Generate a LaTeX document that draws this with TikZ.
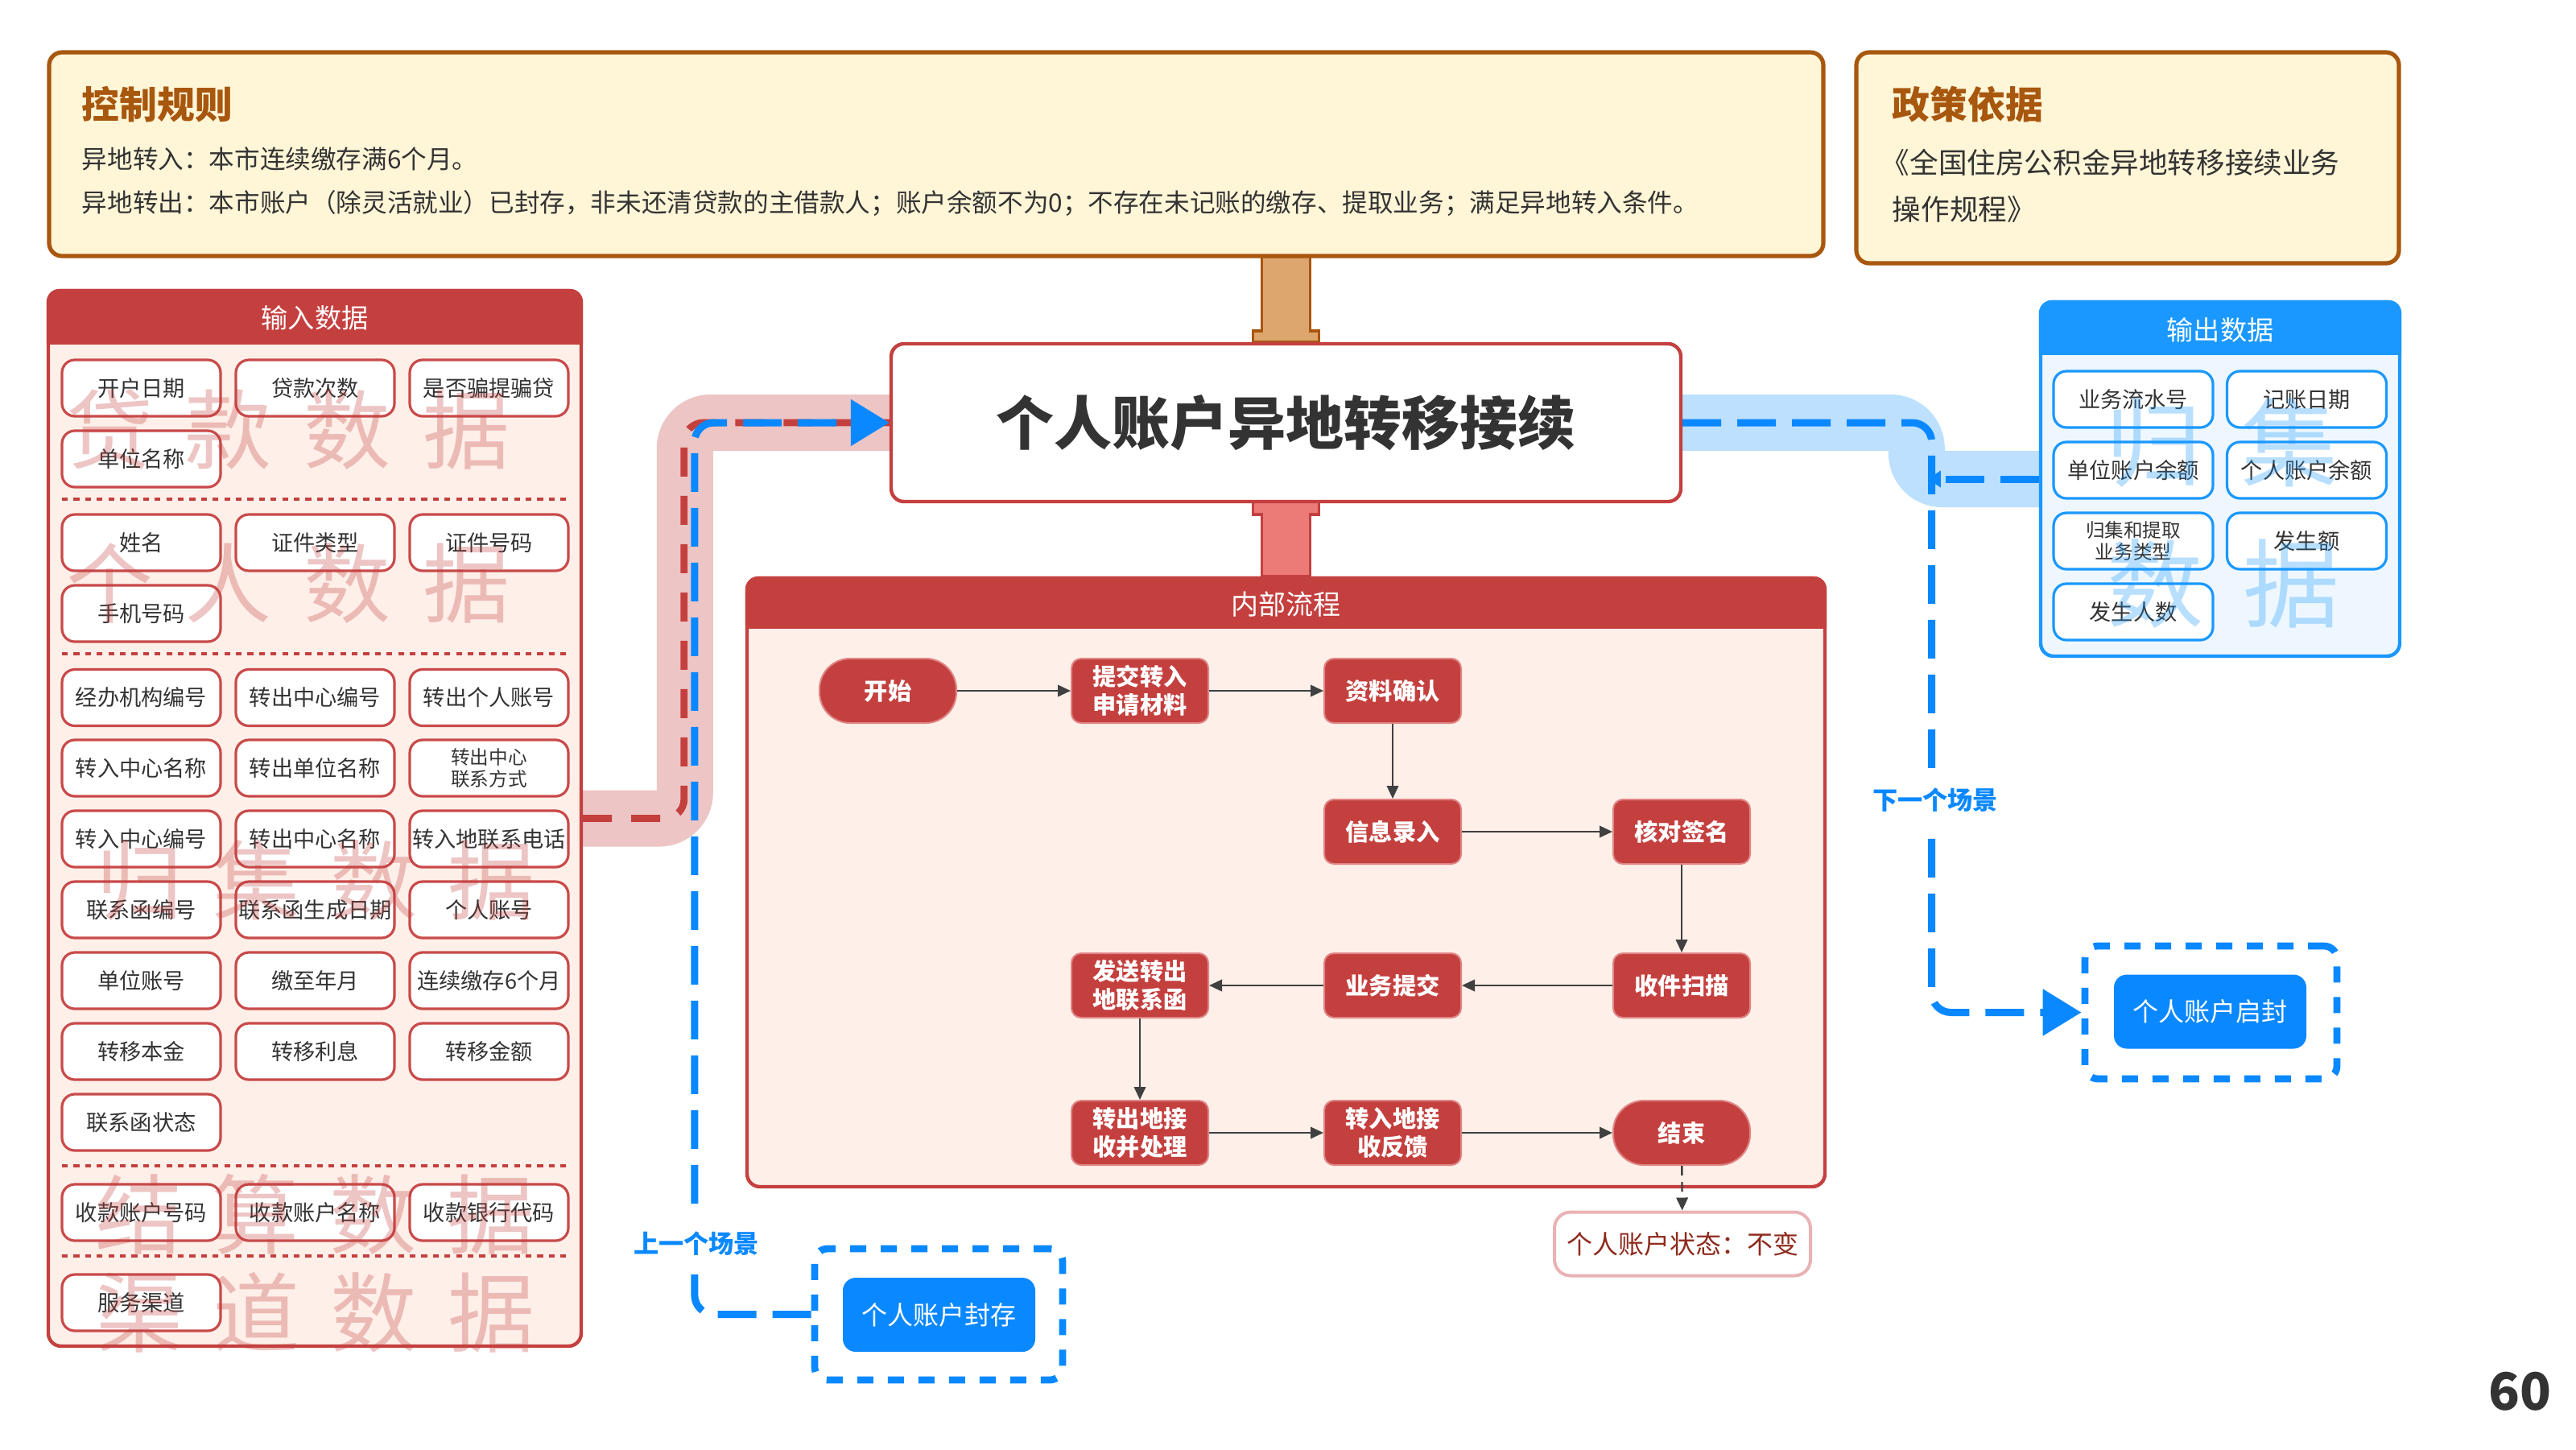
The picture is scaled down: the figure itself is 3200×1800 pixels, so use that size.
\documentclass[tikz,border=0pt]{standalone}
\usepackage{fontspec}
\setmainfont{Noto Sans CJK SC}
\usetikzlibrary{arrows.meta,calc}
\definecolor{inred}{HTML}{C4403F}
\definecolor{boxred}{HTML}{C94A4A}
\definecolor{pfill}{HTML}{FEEFE9}
\definecolor{rfill}{HTML}{FFF5D7}
\definecolor{rbrown}{HTML}{A8570E}
\definecolor{tanpipe}{HTML}{DEA66F}
\definecolor{pinkpipe}{HTML}{EC7A77}
\definecolor{pband}{HTML}{EDC5C5}
\definecolor{bband}{HTML}{BDE0FF}
\definecolor{bdash}{HTML}{0A88FF}
\definecolor{bhead}{HTML}{1A98FF}
\definecolor{bfill}{HTML}{EEF7FF}
\definecolor{txt}{HTML}{333333}
\definecolor{statred}{HTML}{8E2A1C}
\definecolor{flowedge}{HTML}{E08484}
\definecolor{stedge}{HTML}{E9B3B3}
\newcommand\fsz[2]{\fontsize{#1}{#2}\selectfont}
\pgfdeclarelayer{back}
\pgfdeclarelayer{bg}
\pgfsetlayers{back,bg,main}
\begin{document}
\begin{tikzpicture}[x=0.25pt,y=-0.25pt,
  ibox/.style={draw=boxred, line width=0.8pt, fill=white, rounded corners=4pt, minimum width=49.25pt, minimum height=17.5pt, inner sep=0pt, font=\fsz{6.8pt}{8pt}, text=txt, align=center},
  ismall/.style={ibox, font=\fsz{5.9pt}{6.8pt}},
  obox/.style={ibox, draw=bhead, minimum width=49.5pt},
  osmall/.style={obox, font=\fsz{5.9pt}{6.8pt}},
  panel/.style={draw=inred, line width=1.1pt, fill=pfill, rounded corners=4pt, inner sep=0pt},
  headtxt/.style={text=white, font=\fsz{8.3pt}{9pt}, inner sep=0pt},
  rulebox/.style={draw=rbrown, line width=1.3pt, fill=rfill, rounded corners=4pt, inner sep=0pt},
  ttl/.style={text=rbrown, font=\bfseries\fsz{11.7pt}{12pt}, inner sep=0pt},
  rtxt/.style={text=txt, font=\fsz{7.9pt}{9pt}, inner sep=0pt},
  ptxt/.style={text=txt, font=\fsz{8.9pt}{10pt}, inner sep=0pt},
  flow/.style={fill=inred, draw=flowedge, line width=0.5pt, rounded corners=3pt, minimum width=42.5pt, minimum height=20pt, inner sep=0pt, text=white, font=\bfseries\fsz{7.3pt}{8.75pt}, align=center},
  pill/.style={flow, rounded corners=9.5pt},
  farrow/.style={draw=black!75, line width=0.6pt, -{Triangle[length=4pt,width=3.6pt]}},
  status/.style={draw=stedge, line width=1pt, fill=white, rounded corners=5pt, minimum width=79.5pt, minimum height=19.75pt, inner sep=0pt, text=statred, font=\fsz{8pt}{9pt}},
  dbox/.style={draw=bdash, line width=2.2pt, dash pattern=on 5pt off 4.5pt, rounded corners=4pt, inner sep=0pt},
  bbtn/.style={fill=bdash, rounded corners=4pt, text=white, font=\fsz{8pt}{9pt}, minimum width=59.75pt, minimum height=23pt, inner sep=0pt},
  bluedash/.style={draw=bdash, line width=2.25pt, dash pattern=on 12pt off 5pt, rounded corners=6pt},
  reddash/.style={draw=inred, line width=2.2pt, dash pattern=on 9pt off 6pt, rounded corners=6pt},
  seplin/.style={draw=inred, line width=0.9pt, dash pattern=on 1.8pt off 1.8pt},
  scene/.style={fill=white, text=bdash, font=\bfseries\fsz{7.8pt}{8pt}, inner xsep=1pt, inner ysep=5pt},
  wm/.style={text=inred, text opacity=0.3, font=\fsz{27pt}{27pt}, inner sep=0pt},
  wmb/.style={text=bhead, text opacity=0.3, font=\fsz{30pt}{30pt}, inner sep=0pt}
]
\begin{pgfonlayer}{back}
\fill[white] (0,0) rectangle (3200,1800);
\end{pgfonlayer}
\useasboundingbox (0,0) rectangle (3200,1800);

% ---------- rules and policy ----------
\node[rulebox, minimum width=551pt, minimum height=63.25pt] (rules) at (1163,191.5) {};
\node[ttl, anchor=west] (rulesttl) at (101,130) {控制规则};
\node[rtxt, anchor=west] (rule1) at (101,197) {异地转入：本市连续缴存满6个月。};
\node[rtxt, anchor=west] (rule2) at (101,253) {异地转出：本市账户（除灵活就业）已封存，非未还清贷款的主借款人；账户余额不为0；不存在未记账的缴存、提取业务；满足异地转入条件。};

\node[rulebox, minimum width=168.5pt, minimum height=65.5pt] (policy) at (2643,196) {};
\node[ttl, anchor=west] (polttl) at (2350,130) {政策依据};
\node[ptxt, anchor=west] (pol1) at (2336,202) {《全国住房公积金异地转移接续业务};
\node[ptxt, anchor=west] (pol2) at (2350,260) {操作规程》};

% ---------- main title ----------
\node[draw=inred, line width=1.1pt, fill=white, rounded corners=4pt, minimum width=245.25pt, minimum height=49pt, inner sep=0pt, font=\bfseries\fsz{18pt}{18pt}, text=txt] (title) at (1597.5,525) {个人账户异地转移接续};

% ---------- input panel ----------
\node[panel, minimum width=165.5pt, minimum height=327.75pt] (inp) at (391,1016.5) {};
\fill[inred] ($(inp.north west)+(0,69)$) [rounded corners=4pt] -- (inp.north west) -- (inp.north east) [sharp corners] -- ($(inp.north east)+(0,69)$) -- cycle;
\node[headtxt] (inhead) at (391,395) {输入数据};

\node[ibox] (i1) at (175.5,482) {开户日期};
\node[ibox] (i2) at (391.5,482) {贷款次数};
\node[ibox] (i3) at (607.5,482) {是否骗提骗贷};
\node[ibox] (i4) at (175.5,570) {单位名称};
\draw[seplin] (77,620) -- (706,620);
\node[ibox] (i5) at (175.5,674) {姓名};
\node[ibox] (i6) at (391.5,674) {证件类型};
\node[ibox] (i7) at (607.5,674) {证件号码};
\node[ibox] (i8) at (175.5,762) {手机号码};
\draw[seplin] (77,812) -- (706,812);
\node[ibox] (i9) at (175.5,866.5) {经办机构编号};
\node[ibox] (i10) at (391.5,866.5) {转出中心编号};
\node[ibox] (i11) at (607.5,866.5) {转出个人账号};
\node[ibox] (i12) at (175.5,954) {转入中心名称};
\node[ibox] (i13) at (391.5,954) {转出单位名称};
\node[ismall] (i14) at (607.5,954) {转出中心\\联系方式};
\node[ibox] (i15) at (175.5,1042) {转入中心编号};
\node[ibox] (i16) at (391.5,1042) {转出中心名称};
\node[ibox] (i17) at (607.5,1042) {转入地联系电话};
\node[ibox] (i18) at (175.5,1130) {联系函编号};
\node[ibox] (i19) at (391.5,1130) {联系函生成日期};
\node[ibox] (i20) at (607.5,1130) {个人账号};
\node[ibox] (i21) at (175.5,1218) {单位账号};
\node[ibox] (i22) at (391.5,1218) {缴至年月};
\node[ibox] (i23) at (607.5,1218) {连续缴存6个月};
\node[ibox] (i24) at (175.5,1306) {转移本金};
\node[ibox] (i25) at (391.5,1306) {转移利息};
\node[ibox] (i26) at (607.5,1306) {转移金额};
\node[ibox] (i27) at (175.5,1394) {联系函状态};
\draw[seplin] (77,1448) -- (706,1448);
\node[ibox] (i28) at (175.5,1506) {收款账户号码};
\node[ibox] (i29) at (391.5,1506) {收款账户名称};
\node[ibox] (i30) at (607.5,1506) {收款银行代码};
\draw[seplin] (77,1560) -- (706,1560);
\node[ibox] (i31) at (175.5,1618) {服务渠道};

% ---------- internal flow panel ----------
\node[panel, minimum width=334.75pt, minimum height=189pt] (flowp) at (1597.5,1096) {};
\fill[inred] ($(flowp.north west)+(0,65)$) [rounded corners=4pt] -- (flowp.north west) -- (flowp.north east) [sharp corners] -- ($(flowp.north east)+(0,65)$) -- cycle;
\node[headtxt, font=\fsz{8.5pt}{9pt}] (flowhead) at (1597.5,751) {内部流程};

\node[pill] (fstart) at (1103,858) {开始};
\node[flow] (fsubmit) at (1416,858) {提交转入\\申请材料};
\node[flow] (fconfirm) at (1730,858) {资料确认};
\node[flow] (fentry) at (1730,1033) {信息录入};
\node[flow] (fverify) at (2089,1033) {核对签名};
\node[flow] (fscan) at (2089,1224) {收件扫描};
\node[flow] (fbusi) at (1730,1224) {业务提交};
\node[flow] (fsend) at (1416,1224) {发送转出\\地联系函};
\node[flow] (fout) at (1416,1407) {转出地接\\收并处理};
\node[flow] (fin) at (1730,1407) {转入地接\\收反馈};
\node[pill] (fend) at (2089,1407) {结束};
\node[status] (fstat) at (2090,1545) {个人账户状态：不变};

\draw[farrow] (fstart) -- (fsubmit);
\draw[farrow] (fsubmit) -- (fconfirm);
\draw[farrow] (fconfirm) -- (fentry);
\draw[farrow] (fentry) -- (fverify);
\draw[farrow] (fverify) -- (fscan);
\draw[farrow] (fscan) -- (fbusi);
\draw[farrow] (fbusi) -- (fsend);
\draw[farrow] (fsend) -- (fout);
\draw[farrow] (fout) -- (fin);
\draw[farrow] (fin) -- (fend);
\draw[farrow, dash pattern=on 3pt off 2pt] (fend) -- (fstat);

% ---------- output panel ----------
\node[panel, draw=bhead, fill=bfill, minimum width=111.5pt, minimum height=110pt] (outp) at (2758,595) {};
\fill[bhead] ($(outp.north west)+(0,68)$) [rounded corners=4pt] -- (outp.north west) -- (outp.north east) [sharp corners] -- ($(outp.north east)+(0,68)$) -- cycle;
\node[headtxt] (outhead) at (2758,410) {输出数据};
\node[obox] (o1) at (2650,496) {业务流水号};
\node[obox] (o2) at (2865.5,496) {记账日期};
\node[obox] (o3) at (2650,584) {单位账户余额};
\node[obox] (o4) at (2865.5,584) {个人账户余额};
\node[osmall] (o5) at (2650,672) {归集和提取\\业务类型};
\node[obox] (o6) at (2865.5,672) {发生额};
\node[obox] (o7) at (2650,760) {发生人数};

% ---------- scene boxes ----------
\node[dbox, minimum width=77pt, minimum height=40.75pt] (sealbox) at (1166,1632.5) {};
\node[bbtn] (seal) at (1166.5,1633) {个人账户封存};
\node[dbox, minimum width=78.25pt, minimum height=41.25pt] (unsealbox) at (2746.5,1257.5) {};
\node[bbtn] (unseal) at (2745.5,1256.5) {个人账户启封};

% ---------- bands and pipes (background) ----------
\begin{pgfonlayer}{bg}
\draw[pband, line width=17.5pt, rounded corners=8pt] (inp.east) -| ($(title.west)+(-254,0)$) -- (title.west);
\draw[bband, line width=17.5pt, rounded corners=8pt] (title.east) -| ($(outp.west)+(-152,0)$) -- (outp.west);
\filldraw[fill=tanpipe, draw=rbrown, line width=0.9pt]
  ($(title.north)+(-30,-112)$) -- ($(title.north)+(-30,-14)$) -- ($(title.north)+(-41,-14)$) -- ($(title.north)+(-41,0)$)
  -- ($(title.north)+(41,0)$) -- ($(title.north)+(41,-14)$) -- ($(title.north)+(30,-14)$) -- ($(title.north)+(30,-112)$);
\filldraw[fill=pinkpipe, draw=inred, line width=0.9pt]
  ($(title.south)+(-41,0)$) -- ($(title.south)+(-41,14)$) -- ($(title.south)+(-30,14)$) -- ($(flowp.north)+(-30,0)$)
  -- ($(flowp.north)+(30,0)$) -- ($(title.south)+(30,14)$) -- ($(title.south)+(41,14)$) -- ($(title.south)+(41,0)$);
\end{pgfonlayer}

% ---------- dashed connectors ----------
\draw[reddash] (inp.east) -| ($(title.west)+(-255,0)$) -- (title.west);
\draw[bluedash, -{Triangle[length=12pt,width=14pt]}] (sealbox.west) -| ($(title.west)+(-242,0)$) -- (title.west);
\draw[bluedash, -{Triangle[length=12pt,width=14pt]}] (title.east) -| ($(unsealbox.west)+(-186,0)$) -- (unsealbox.west);
\draw[bluedash, -{Triangle[length=4pt,width=5pt]}] (outp.west) -- ($(outp.west)+(-138,0)$);
\node[scene] (prevlab) at (865,1545) {上一个场景};
\node[scene] (nextlab) at (2404,994) {下一个场景};

% ---------- watermarks ----------
\node[wm] (wm1) at (358,533) {贷\hspace{10pt}款\hspace{10pt}数\hspace{10pt}据};
\node[wm] (wm2) at (358,725) {个\hspace{10pt}人\hspace{10pt}数\hspace{10pt}据};
\node[wm] (wm3) at (392,1093) {归\hspace{9.5pt}集\hspace{9.5pt}数\hspace{9.5pt}据};
\node[wm] (wm4) at (391,1508) {结\hspace{9.5pt}算\hspace{9.5pt}数\hspace{9.5pt}据};
\node[wm] (wm5) at (392,1630) {渠\hspace{9.5pt}道\hspace{9.5pt}数\hspace{9.5pt}据};
\node[wmb] (wm6) at (2760,550) {归\hspace{12.5pt}集};
\node[wmb] (wm7) at (2762,725) {数\hspace{12.5pt}据};

% ---------- page number ----------
\node[font=\bfseries\fsz{16pt}{16pt}, text=txt, inner sep=0pt] (pgnum) at (3130,1728) {60};
\end{tikzpicture}
\end{document}
